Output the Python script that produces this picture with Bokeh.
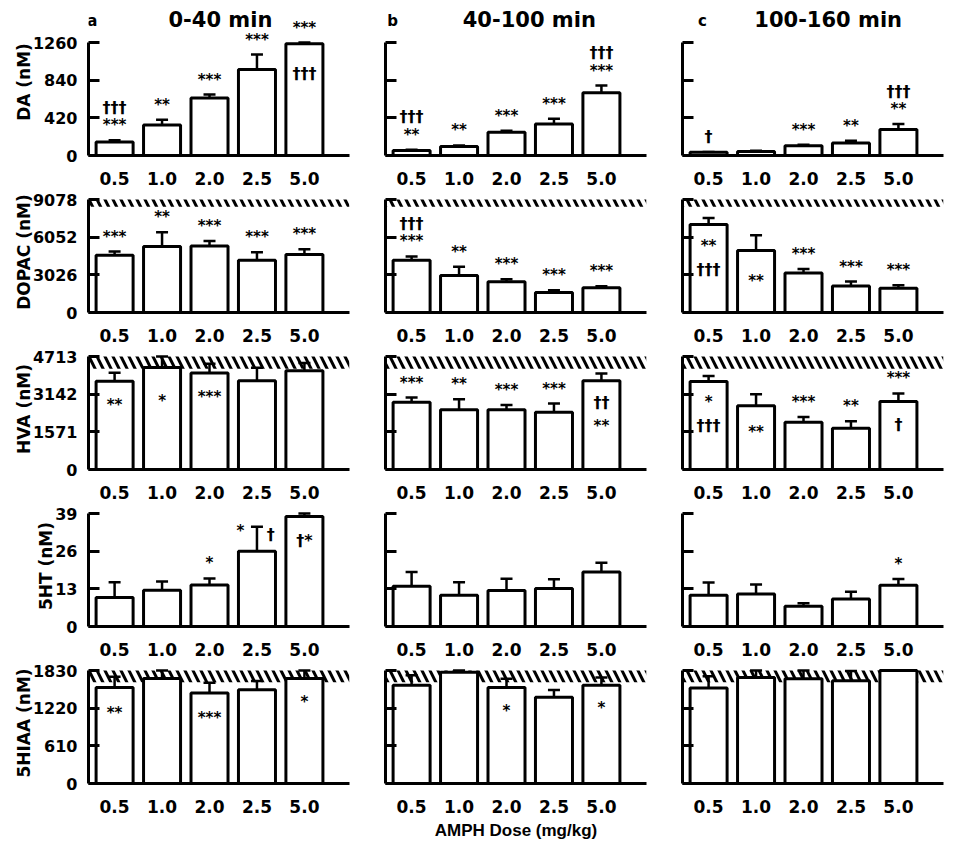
from bokeh.plotting import figure
from bokeh.layouts import column, row
from bokeh.models import Range1d, FixedTicker, Whisker, TeeHead, ColumnDataSource
from bokeh.embed import file_html
from bokeh.resources import INLINE
from bokeh.core.properties import value

# ---------------- data ----------------
doses = ["0.5", "1.0", "2.0", "2.5", "5.0"]
periods = ["0-40 min", "40-100 min", "100-160 min"]
panel_letters = ["a", "b", "c"]
analytes = ["DA (nM)", "DOPAC (nM)", "HVA (nM)", "5HT (nM)", "5HIAA (nM)"]
x_axis_title = "AMPH Dose (mg/kg)"

da_ticks = [0, 420, 840, 1260]
dopac_ticks = [0, 3026, 6052, 9078]
hva_ticks = [0, 1571, 3142, 4713]
ht_ticks = [0, 13, 26, 39]
hiaa_ticks = [0, 610, 1220, 1830]

# lower edge of the hatched basal band
dopac_basal_low = 8500
hva_basal_low = 4200
hiaa_basal_low = 1640

# means / SEM per period (0-40, 40-100, 100-160)
da_mean = [[150, 340, 640, 960, 1245], [55, 100, 260, 350, 700], [35, 45, 110, 140, 290]]
da_sem = [[20, 60, 40, 165, 160], [8, 12, 15, 60, 80], [5, 8, 10, 25, 60]]

dopac_mean = [[4600, 5300, 5350, 4200, 4650], [4200, 2970, 2480, 1610, 1990], [7060, 4990, 3170, 2130, 1940]]
dopac_sem = [[300, 1150, 400, 650, 430], [300, 700, 200, 180, 120], [540, 1220, 320, 360, 240]]

hva_mean = [[3680, 4250, 4020, 3700, 4120], [2800, 2490, 2490, 2390, 3700], [3670, 2660, 1970, 1720, 2840]]
hva_sem = [[360, 780, 390, 540, 320], [200, 440, 200, 360, 300], [230, 480, 220, 290, 330]]

ht_mean = [[10.0, 12.5, 14.3, 26.0, 38.0], [13.9, 10.8, 12.4, 13.1, 18.8], [10.8, 11.2, 7.0, 9.5, 14.2]]
ht_sem = [[5.3, 3.0, 2.3, 8.4, 3.0], [4.9, 4.5, 4.1, 3.2, 3.2], [4.4, 3.3, 1.0, 2.5, 2.2]]

hiaa_mean = [[1555, 1700, 1465, 1520, 1700], [1590, 1800, 1555, 1395, 1590], [1545, 1715, 1695, 1665, 1830]]
hiaa_sem = [[175, 185, 165, 140, 135], [165, 255, 140, 120, 125], [190, 175, 150, 155, 180]]

# significance marks: (dose index, text, where)
da_marks = [
    [(0, "***", "above"), (0, "†††", "above"), (1, "**", "above"), (2, "***", "above"),
     (3, "***", "above"), (4, "***", "above"), (4, "†††", "inside")],
    [(0, "**", "above"), (0, "†††", "above"), (1, "**", "above"), (2, "***", "above"),
     (3, "***", "above"), (4, "***", "above"), (4, "†††", "above")],
    [(0, "†", "above"), (2, "***", "above"), (3, "**", "above"), (4, "**", "above"), (4, "†††", "above")],
]
dopac_marks = [
    [(0, "***", "above"), (1, "**", "above"), (2, "***", "above"), (3, "***", "above"), (4, "***", "above")],
    [(0, "***", "above"), (0, "†††", "above"), (1, "**", "above"), (2, "***", "above"),
     (3, "***", "above"), (4, "***", "above")],
    [(0, "**", "inside"), (0, "†††", "inside"), (1, "**", "inside"), (2, "***", "above"),
     (3, "***", "above"), (4, "***", "above")],
]
hva_marks = [
    [(0, "**", "inside"), (1, "*", "inside"), (2, "***", "inside")],
    [(0, "***", "above"), (1, "**", "above"), (2, "***", "above"), (3, "***", "above"),
     (4, "††", "inside"), (4, "**", "inside")],
    [(0, "*", "inside"), (0, "†††", "inside"), (1, "**", "inside"), (2, "***", "above"),
     (3, "**", "above"), (4, "***", "above"), (4, "†", "inside")],
]
ht_marks = [
    [(2, "*", "above"), (3, "*", "left"), (3, "†", "right"), (4, "†*", "inside")],
    [],
    [(4, "*", "above")],
]
hiaa_marks = [
    [(0, "**", "inside"), (2, "***", "inside"), (4, "*", "inside")],
    [(2, "*", "inside"), (4, "*", "inside")],
    [],
]

rows_spec = [
    (analytes[0], da_ticks, None, da_mean, da_sem, da_marks),
    (analytes[1], dopac_ticks, dopac_basal_low, dopac_mean, dopac_sem, dopac_marks),
    (analytes[2], hva_ticks, hva_basal_low, hva_mean, hva_sem, hva_marks),
    (analytes[3], ht_ticks, None, ht_mean, ht_sem, ht_marks),
    (analytes[4], hiaa_ticks, hiaa_basal_low, hiaa_mean, hiaa_sem, hiaa_marks),
]

# ---------------- layout constants ----------------
TOP_PX = 113
ROW_EXTRA = [34, 8, 8, 8, 8]
XSTART, XEND = -0.55, 4.95
FRAME_W = 261
BAR_W = 0.78
FONT = "DejaVu Sans"
title_x = [2.23, 2.48, 2.52]
letter_x = [-0.47, -0.40, -0.13]

x_pos = list(range(len(doses)))

grid_rows = []
for r, (label, ticks, basal_low, means, sems, marks) in enumerate(rows_spec):
    top = ticks[-1]
    dpp = top / TOP_PX
    fh = TOP_PX + ROW_EXTRA[r]
    figs = []
    for c in range(3):
        p = figure(frame_width=FRAME_W, frame_height=fh,
                   x_range=Range1d(XSTART, XEND), y_range=Range1d(0, fh * dpp),
                   output_backend="svg", toolbar_location=None, title=None,
                   min_border_left=88 if c == 0 else 20,
                   min_border_right=16 if c < 2 else 1,
                   min_border_top=8 if r == 0 else 0,
                   min_border_bottom=36 if r < 4 else 50)
        p.outline_line_color = None
        p.xgrid.visible = False
        p.ygrid.visible = False

        # x axis
        xa = p.xaxis[0]
        xa.ticker = FixedTicker(ticks=x_pos)
        xa.major_label_overrides = {i: d for i, d in zip(x_pos, doses)}
        xa.major_tick_line_color = None
        xa.minor_tick_line_color = None
        xa.axis_line_width = 3
        xa.major_label_text_font = FONT
        xa.major_label_text_font_style = "bold"
        xa.major_label_text_font_size = "17px"
        xa.major_label_text_color = "black"
        xa.major_label_standoff = 10
        if r == 4 and c == 1:
            xa.axis_label = x_axis_title
            xa.axis_label_text_font = "Liberation Sans"
            xa.axis_label_text_font_style = "bold"
            xa.axis_label_text_font_size = "17px"
            xa.axis_label_text_color = "black"
            xa.axis_label_standoff = 5

        # y axis
        ya = p.yaxis[0]
        ya.ticker = FixedTicker(ticks=ticks)
        ya.bounds = (0, top)
        ya.major_tick_in = 11
        ya.major_tick_out = 0
        ya.major_tick_line_width = 3
        ya.minor_tick_line_color = None
        ya.axis_line_width = 3
        if c == 0:
            ya.major_label_text_font = FONT
            ya.major_label_text_font_style = "bold"
            ya.major_label_text_font_size = "16px"
            ya.major_label_text_color = "black"
            ya.major_label_standoff = 11
            ya.axis_label = label
            ya.axis_label_text_font = FONT
            ya.axis_label_text_font_style = "bold"
            ya.axis_label_text_font_size = "17px"
            ya.axis_label_text_color = "black"
            ya.axis_label_standoff = -4
        else:
            ya.major_label_text_font_size = "1px"
            ya.major_label_text_color = None

        # hatched basal band
        if basal_low is not None:
            p.quad(left=[XSTART], right=[XEND], bottom=[basal_low], top=[top],
                   fill_color=None, line_color=None, hatch_pattern="\\",
                   hatch_color="black", hatch_weight=3, hatch_scale=16)

        m = means[c]
        s = sems[c]
        p.vbar(x=x_pos, top=m, bottom=0, width=BAR_W, fill_color="white",
               line_color="black", line_width=3)

        upper = [min(v + e, top) for v, e in zip(m, s)]
        lower = [v - e for v, e in zip(m, s)]
        wsrc = ColumnDataSource(dict(x=x_pos, upper=upper, lower=lower))
        p.add_layout(Whisker(source=wsrc, base="x", upper="upper", lower="lower",
                             line_width=2.5, line_color="black",
                             upper_head=TeeHead(size=12, line_width=2.5, line_color="black"),
                             lower_head=TeeHead(size=12, line_width=2.5, line_color="black")))

        # significance marks
        ax, ay, at, asz = [], [], [], []
        count = {}
        for idx, txt, where in marks[c]:
            k = count.get((idx, where), 0)
            count[(idx, where)] = k + 1
            if where == "above":
                y = upper[idx] + (15 + 18 * k) * dpp
                x = idx
            elif where == "inside":
                y = lower[idx] - (15 + 23 * k) * dpp
                x = idx
            elif where == "left":
                y = upper[idx] - 4 * dpp
                x = idx - 0.35
            else:
                y = upper[idx] - 8 * dpp
                x = idx + 0.29
            ax.append(x)
            ay.append(y)
            at.append(txt)
            asz.append("16px" if "†" in txt else "15px")
        if at:
            src = ColumnDataSource(dict(x=ax, y=ay, text=at, size=asz))
            p.text(x="x", y="y", text="text", source=src, text_font=value(FONT),
                   text_font_style="bold", text_font_size="size", text_align="center",
                   text_baseline="middle", text_color="black")

        # panel titles
        if r == 0:
            p.text(x=[title_x[c]], y=[top + 23 * dpp], text=[periods[c]], text_font=value(FONT),
                   text_font_style="bold", text_font_size="21px", text_align="center",
                   text_baseline="middle", text_color="black")
            p.text(x=[letter_x[c]], y=[top + 22 * dpp], text=[panel_letters[c]], text_font=value(FONT),
                   text_font_style="bold", text_font_size="15px", text_align="center",
                   text_baseline="middle", text_color="black")
        figs.append(p)
    grid_rows.append(row(*figs))

layout = column(*grid_rows)
open("out.html", "w").write(file_html(layout, INLINE))
